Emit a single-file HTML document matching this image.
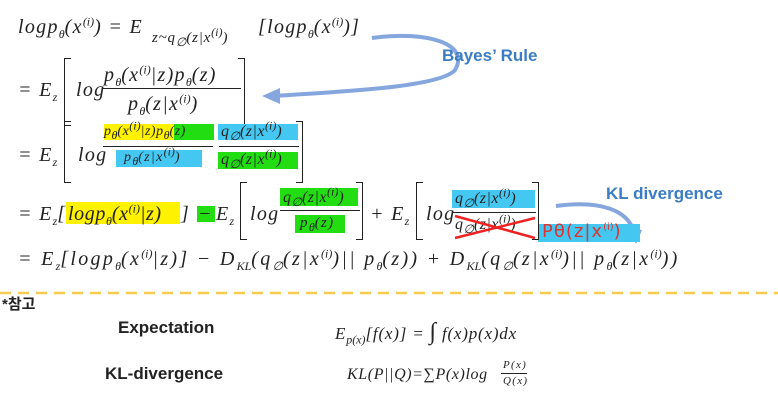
<!DOCTYPE html>
<html><head><meta charset="utf-8"><style>
body{margin:0;width:778px;height:415px;background:#fff;position:relative;overflow:hidden;font-family:"Liberation Serif",serif;color:#222}
.a{position:absolute;white-space:nowrap;line-height:1}
.m{font-style:italic;font-size:20px;letter-spacing:1.3px}
sub,sup{font-size:12px;line-height:0;letter-spacing:0}
.hl{position:absolute}
.y{background:#fff200}.g{background:#22dd11}.b{background:#44c8f2}
.br{position:absolute;border:1.5px solid #222;width:6px}
.bl{border-right:none}.brr{border-left:none}
.lbl{font-family:"Liberation Sans","Noto Sans CJK KR",sans-serif;font-weight:bold}
</style></head><body>
<svg class="a" style="left:0;top:0" width="778" height="415">
<path d="M372 38 C430 30 470 45 455 70 C440 88 330 92 275 96" fill="none" stroke="#85a7de" stroke-width="4"/>
<polygon points="262,96 280,88 280,104" fill="#85a7de"/>
<path d="M556 206 C600 200 628 210 634 232" fill="none" stroke="#85a7de" stroke-width="4"/>
<polygon points="627,228 642,230 636,244" fill="#85a7de"/>
<line x1="0" y1="293" x2="778" y2="293" stroke="#f7cb4d" stroke-width="2.5" stroke-dasharray="11,7"/>
</svg>

<div class="a lbl" style="left:442px;top:47px;font-size:17px;color:#3b7dc4">Bayes’ Rule</div>
<div class="a lbl" style="left:606px;top:185px;font-size:17px;color:#3b7dc4">KL divergence</div>

<!-- line 1 -->
<div class="a m" style="left:18px;top:17px">logp<sub>θ</sub>(x<sup>(i)</sup>) = E</div>
<div class="a m" style="left:152px;top:31px;font-size:15px;letter-spacing:0.8px">z~q<sub>∅</sub>(z|x<sup>(i)</sup>)</div>
<div class="a m" style="left:258px;top:17px">[logp<sub>θ</sub>(x<sup>(i)</sup>)]</div>

<!-- line 2 -->
<div class="a m" style="left:18px;top:80px">= E<sub>z</sub></div>
<div class="br bl" style="left:64px;top:58px;height:66px"></div>
<div class="a m" style="left:76px;top:80px">log</div>
<div class="a m" style="left:104px;top:65px">p<sub>θ</sub>(x<sup>(i)</sup>|z)p<sub>θ</sub>(z)</div>
<div class="a" style="left:103px;top:88px;width:138px;border-top:1.5px solid #222"></div>
<div class="a m" style="left:128px;top:94px">p<sub>θ</sub>(z|x<sup>(i)</sup>)</div>
<div class="br brr" style="left:238px;top:58px;height:66px"></div>

<!-- line 3 -->
<div class="a m" style="left:18px;top:145px">= E<sub>z</sub></div>
<div class="br bl" style="left:64px;top:121px;height:60px"></div>
<div class="a m" style="left:78px;top:145px">log</div>
<div class="hl y" style="left:104px;top:124px;width:71px;height:16px"></div>
<div class="hl g" style="left:174px;top:124px;width:40px;height:16px"></div>
<div class="hl b" style="left:116px;top:150px;width:86px;height:17px"></div>
<div class="hl b" style="left:218px;top:124px;width:80px;height:16px"></div>
<div class="hl g" style="left:218px;top:152px;width:80px;height:17px"></div>
<div class="a m" style="left:104px;top:125px;font-size:14px;letter-spacing:0.5px">p<sub>θ</sub>(x<sup>(i)</sup>|z)p<sub>θ</sub>(z)</div>
<div class="a" style="left:103px;top:146px;width:110px;border-top:1.5px solid #222"></div>
<div class="a m" style="left:124px;top:151px;font-size:14px">p<sub>θ</sub>(z|x<sup>(i)</sup>)</div>
<div class="a m" style="left:221px;top:124px;font-size:16px;letter-spacing:0.5px">q<sub>∅</sub>(z|x<sup>(i)</sup>)</div>
<div class="a" style="left:219px;top:146px;width:80px;border-top:1.5px solid #222"></div>
<div class="a m" style="left:221px;top:152px;font-size:16px;letter-spacing:0.5px">q<sub>∅</sub>(z|x<sup>(i)</sup>)</div>
<div class="br brr" style="left:296px;top:121px;height:60px"></div>

<!-- line 4 -->
<div class="hl y" style="left:66px;top:202px;width:114px;height:22px"></div>
<div class="hl g" style="left:197px;top:206px;width:18px;height:16px"></div>
<div class="hl g" style="left:280px;top:188px;width:78px;height:18px"></div>
<div class="hl g" style="left:295px;top:215px;width:50px;height:18px"></div>
<div class="hl b" style="left:452px;top:190px;width:83px;height:18px"></div>
<div class="hl b" style="left:538px;top:224px;width:102px;height:18px"></div>
<div class="a m" style="left:18px;top:204px">= E<sub>z</sub>[</div>
<div class="a m" style="left:68px;top:204px;letter-spacing:0.6px">logp<sub>θ</sub>(x<sup>(i)</sup>|z)</div>
<div class="a m" style="left:181px;top:204px">]</div>
<div class="a m" style="left:198px;top:204px">−</div>
<div class="a m" style="left:216px;top:204px">E<sub>z</sub></div>
<div class="br bl" style="left:240px;top:182px;height:56px"></div>
<div class="a m" style="left:250px;top:204px">log</div>
<div class="a m" style="left:283px;top:190px;font-size:16px;letter-spacing:0.5px">q<sub>∅</sub>(z|x<sup>(i)</sup>)</div>
<div class="a" style="left:280px;top:210px;width:80px;border-top:1.5px solid #222"></div>
<div class="a m" style="left:300px;top:216px;font-size:15px">p<sub>θ</sub>(z)</div>
<div class="br brr" style="left:356px;top:182px;height:56px"></div>
<div class="a m" style="left:370px;top:204px">+ E<sub>z</sub></div>
<div class="br bl" style="left:416px;top:182px;height:56px"></div>
<div class="a m" style="left:426px;top:204px">log</div>
<div class="a m" style="left:455px;top:191px;font-size:16px;letter-spacing:0.5px">q<sub>∅</sub>(z|x<sup>(i)</sup>)</div>
<div class="a" style="left:452px;top:212px;width:84px;border-top:1.5px solid #222"></div>
<div class="a m" style="left:455px;top:217px;font-size:16px;letter-spacing:0.5px">q<sub>∅</sub>(z|x<sup>(i)</sup>)</div>
<svg class="a" style="left:450px;top:212px" width="90" height="30"><path d="M5 4 L85 26 M5 26 L85 6" stroke="#e22" stroke-width="2.5"/></svg>
<div class="br brr" style="left:532px;top:182px;height:56px"></div>
<div class="a" style="left:542px;top:223px;font-size:18px;color:#d33;font-family:'DejaVu Sans',sans-serif;font-weight:normal;letter-spacing:1px">Pθ(z|x<sup style="font-size:10px">(i)</sup>)</div>

<!-- line 5 -->
<div class="a m" style="left:18px;top:249px;letter-spacing:2.3px">= E<sub>z</sub>[logp<sub>θ</sub>(x<sup>(i)</sup>|z)] − D<sub>KL</sub>(q<sub>∅</sub>(z|x<sup>(i)</sup>)|| p<sub>θ</sub>(z)) + D<sub>KL</sub>(q<sub>∅</sub>(z|x<sup>(i)</sup>)|| p<sub>θ</sub>(z|x<sup>(i)</sup>))</div>

<!-- reference -->
<div class="a lbl" style="left:2px;top:297px;font-size:15px">*참고</div>
<div class="a lbl" style="left:118px;top:319px;font-size:17px;font-weight:600">Expectation</div>
<div class="a m" style="left:335px;top:320px;font-size:17px;letter-spacing:0.8px">E<sub>p(x)</sub>[f(x)] = <span style="font-size:24px;font-style:normal">∫</span> f(x)p(x)dx</div>
<div class="a lbl" style="left:105px;top:365px;font-size:17px;font-weight:600">KL-divergence</div>
<div class="a m" style="left:347px;top:367px;font-size:16px;letter-spacing:0.6px">KL(P||Q)=∑P(x)log</div>
<div class="a m" style="left:503px;top:360px;font-size:11px">P(x)</div>
<div class="a" style="left:501px;top:373px;width:26px;border-top:1px solid #222"></div>
<div class="a m" style="left:503px;top:376px;font-size:11px">Q(x)</div>
</body></html>
